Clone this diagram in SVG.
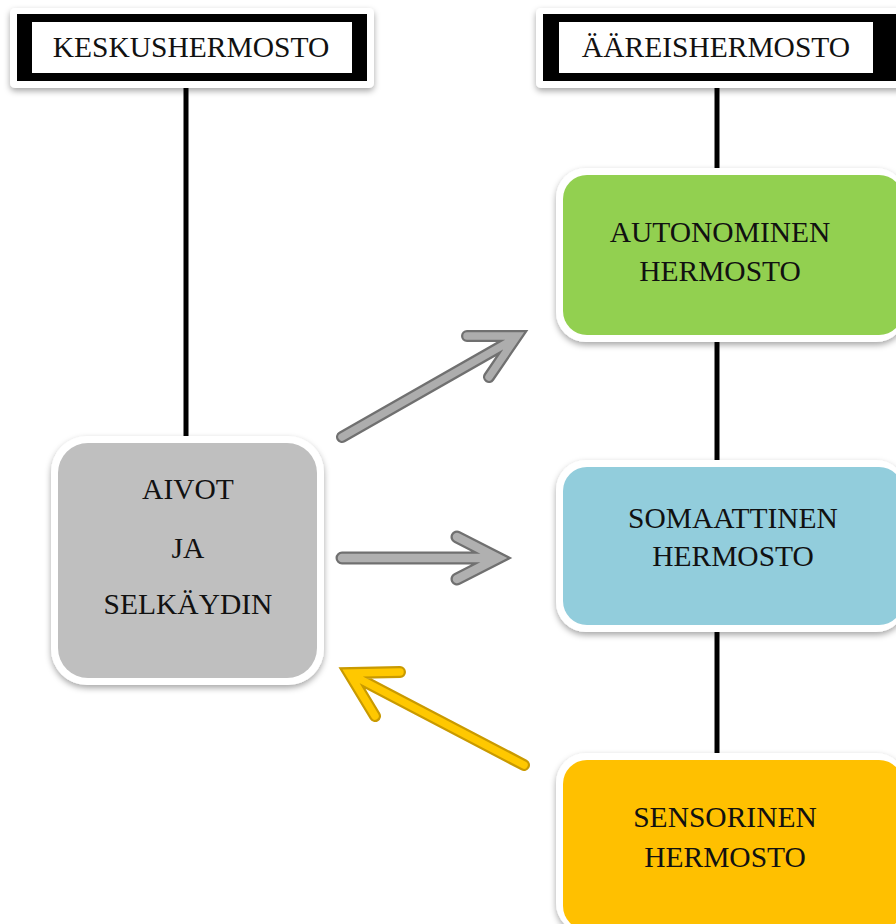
<svg xmlns="http://www.w3.org/2000/svg" width="896" height="924" viewBox="0 0 896 924">
<defs>
<filter id="sh" x="-10%" y="-10%" width="120%" height="125%">
<feDropShadow dx="0" dy="3" stdDeviation="3" flood-color="#000" flood-opacity="0.35"/>
</filter>
</defs>
<style>
.t{font-family:"Liberation Serif","Times New Roman",serif;font-size:29.5px;fill:#111;text-anchor:middle}
.card{fill:#fff;filter:url(#sh)}
.ln{stroke:#000;stroke-width:5;fill:none}
.ag{fill:none;stroke-linejoin:miter;stroke-linecap:round}
</style>
<rect width="896" height="924" fill="#fff"/>
<g id="connectors">
<line class="ln" x1="186" y1="80" x2="186" y2="442"/>
<line class="ln" x1="717" y1="80" x2="717" y2="172"/>
<line class="ln" x1="717" y1="342" x2="717" y2="464"/>
<line class="ln" x1="717" y1="630" x2="717" y2="758"/>
<g id="arrow-up">
<path class="ag" d="M342,437 L514,339 M467,336 L517,336 L489,377" stroke="#707070" stroke-width="12"/>
<path class="ag" d="M342,437 L514,339 M467,336 L517,336 L489,377" stroke="#adadad" stroke-width="7.5"/>
</g>
<g id="arrow-right">
<path class="ag" d="M342,558 L496,558 M457,537 L498,558 L457,579" stroke="#707070" stroke-width="13"/>
<path class="ag" d="M342,558 L496,558 M457,537 L498,558 L457,579" stroke="#b0b0b0" stroke-width="8.5"/>
</g>
<g id="arrow-yellow">
<path class="ag" d="M524,765 L352,675 M400,672 L349,673 L375,716" stroke="#c99a00" stroke-width="12"/>
<path class="ag" d="M524,765 L352,675 M400,672 L349,673 L375,716" stroke="#ffc800" stroke-width="7.5"/>
</g>
</g>
<g id="keskushermosto">
<rect class="card" x="10" y="8" width="364" height="80" rx="5"/>
<rect x="17" y="14" width="350" height="67" fill="#000"/>
<rect x="32" y="22" width="320" height="51" fill="#fff"/>
<text class="t" x="191" y="57">KESKUSHERMOSTO</text>
</g>
<g id="aareishermosto">
<rect class="card" x="536" y="8" width="370" height="80" rx="5"/>
<rect x="543" y="14" width="360" height="67" fill="#000"/>
<rect x="559" y="22" width="314" height="51" fill="#fff"/>
<text class="t" x="716" y="57">ÄÄREISHERMOSTO</text>
</g>
<g id="aivot">
<rect class="card" x="51" y="436" width="273" height="249" rx="36"/>
<rect x="58" y="443" width="259" height="235" rx="30" fill="#bfbfbf"/>
<text class="t" x="188" y="499">AIVOT</text>
<text class="t" x="188" y="558">JA</text>
<text class="t" x="188" y="614">SELKÄYDIN</text>
</g>
<g id="autonominen">
<rect class="card" x="556" y="168" width="350" height="174" rx="30"/>
<rect x="563" y="175" width="340" height="160" rx="24" fill="#92d050"/>
<text class="t" x="720" y="242">AUTONOMINEN</text>
<text class="t" x="720" y="281">HERMOSTO</text>
</g>
<g id="somaattinen">
<rect class="card" x="556" y="460" width="350" height="172" rx="30"/>
<rect x="563" y="467" width="340" height="158" rx="24" fill="#92cddc"/>
<text class="t" x="733" y="528">SOMAATTINEN</text>
<text class="t" x="733" y="566">HERMOSTO</text>
</g>
<g id="sensorinen">
<rect class="card" x="556" y="753" width="350" height="180" rx="30"/>
<rect x="563" y="760" width="340" height="170" rx="24" fill="#ffc000"/>
<text class="t" x="725" y="827">SENSORINEN</text>
<text class="t" x="725" y="867">HERMOSTO</text>
</g>
</svg>
